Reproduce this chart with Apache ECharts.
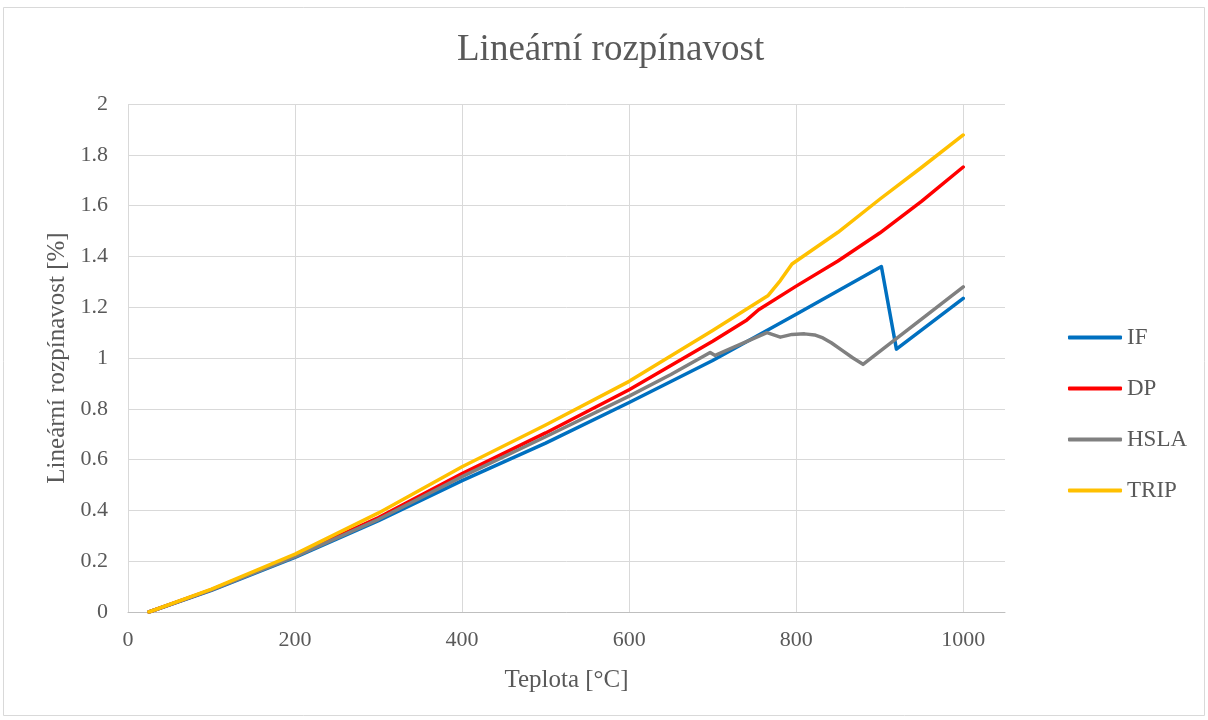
<!DOCTYPE html>
<html>
<head>
    <meta charset="UTF-8">
    <title>Lineární rozpínavost</title>
    <script src="https://cdn.jsdelivr.net/npm/echarts@6/dist/echarts.min.js"></script>
    <style>
        html, body { margin: 0; padding: 0; background: #fff; }
        #chart { width: 1208px; height: 720px; }
    </style>
</head>
<body>
    <div id="chart"></div>
    <script>
        // teplota [°C] a lineární rozpínavost [%]
        var ifData = [[25, 0], [100, 0.085], [200, 0.215], [300, 0.36], [400, 0.517], [500, 0.665],
            [600, 0.825], [700, 0.99], [800, 1.172], [902, 1.36], [920, 1.035], [1000, 1.235]];
        var dpData = [[25, 0], [100, 0.088], [200, 0.222], [300, 0.372], [400, 0.545], [500, 0.705],
            [600, 0.875], [700, 1.066], [741, 1.15], [755, 1.19], [800, 1.283], [850, 1.382],
            [900, 1.492], [950, 1.617], [1000, 1.752]];
        var hslaData = [[25, 0], [100, 0.087], [200, 0.218], [300, 0.365], [400, 0.533], [500, 0.69],
            [600, 0.85], [650, 0.935], [697, 1.022], [703, 1.01], [765, 1.10], [781, 1.082], [795, 1.093],
            [810, 1.095], [822, 1.091], [832, 1.079], [842, 1.06], [855, 1.03], [868, 1.0], [880, 0.975],
            [1000, 1.28]];
        var tripData = [[25, 0], [100, 0.09], [200, 0.228], [300, 0.39], [400, 0.572], [500, 0.736],
            [600, 0.908], [700, 1.108], [766, 1.245], [781, 1.305], [795, 1.37], [850, 1.495],
            [900, 1.625], [950, 1.75], [1000, 1.878]];

        var seriesNames = ['IF', 'DP', 'HSLA', 'TRIP'];
        var seriesColors = ['#0070C0', '#FF0000', '#808080', '#FFC000'];
        var seriesData = [ifData, dpData, hslaData, tripData];

        var font = '"Liberation Serif", "Times New Roman", serif';
        var textColor = '#595959';

        var series = seriesNames.map(function (name, i) {
            return {
                name: name,
                type: 'line',
                data: seriesData[i],
                symbol: 'none',
                color: seriesColors[i],
                lineStyle: { width: 3.5, color: seriesColors[i], cap: 'round', join: 'round' }
            };
        });

        var option = {
            animation: false,
            backgroundColor: '#fff',
            graphic: [{
                type: 'rect',
                shape: { x: 3.5, y: 7.5, width: 1201, height: 708 },
                style: { fill: 'none', stroke: '#d9d9d9', lineWidth: 1 },
                silent: true
            }],
            title: {
                text: 'Lineární rozpínavost',
                left: 452,
                top: 27,
                textStyle: { fontFamily: font, fontSize: 37, fontWeight: 'normal', color: textColor }
            },
            legend: {
                orient: 'vertical',
                left: 1063,
                top: 321,
                icon: 'roundRect',
                itemWidth: 54,
                itemHeight: 4,
                itemGap: 28,
                textStyle: { fontFamily: font, fontSize: 23, color: textColor },
                data: seriesNames
            },
            grid: { left: 128, right: 203, top: 104, bottom: 108, containLabel: false },
            xAxis: {
                type: 'value',
                min: 0,
                max: 1050,
                interval: 200,
                name: 'Teplota [°C]',
                nameLocation: 'middle',
                nameGap: 56,
                nameTextStyle: { fontFamily: font, fontSize: 25, color: textColor },
                axisLine: { show: true, onZero: false, lineStyle: { color: '#bfbfbf', width: 1 } },
                axisTick: { show: false },
                axisLabel: {
                    fontFamily: font, fontSize: 22, color: textColor, margin: 17, showMaxLabel: false,
                    formatter: function (v) { return String(v); }
                },
                splitLine: { show: true, showMinLine: true, showMaxLine: false, lineStyle: { color: '#d9d9d9', width: 1 } }
            },
            yAxis: {
                type: 'value',
                min: 0,
                max: 2,
                interval: 0.2,
                name: 'Lineární rozpínavost [%]',
                nameLocation: 'middle',
                nameGap: 58,
                nameTextStyle: { fontFamily: font, fontSize: 25, color: textColor },
                axisLine: { show: false },
                axisTick: { show: false },
                axisLabel: { fontFamily: font, fontSize: 22, color: textColor, margin: 20 },
                splitLine: { show: true, lineStyle: { color: '#d9d9d9', width: 1 } }
            },
            series: series
        };

        var myChart = echarts.init(document.getElementById('chart'));
        myChart.setOption(option);
    </script>
</body>
</html>
